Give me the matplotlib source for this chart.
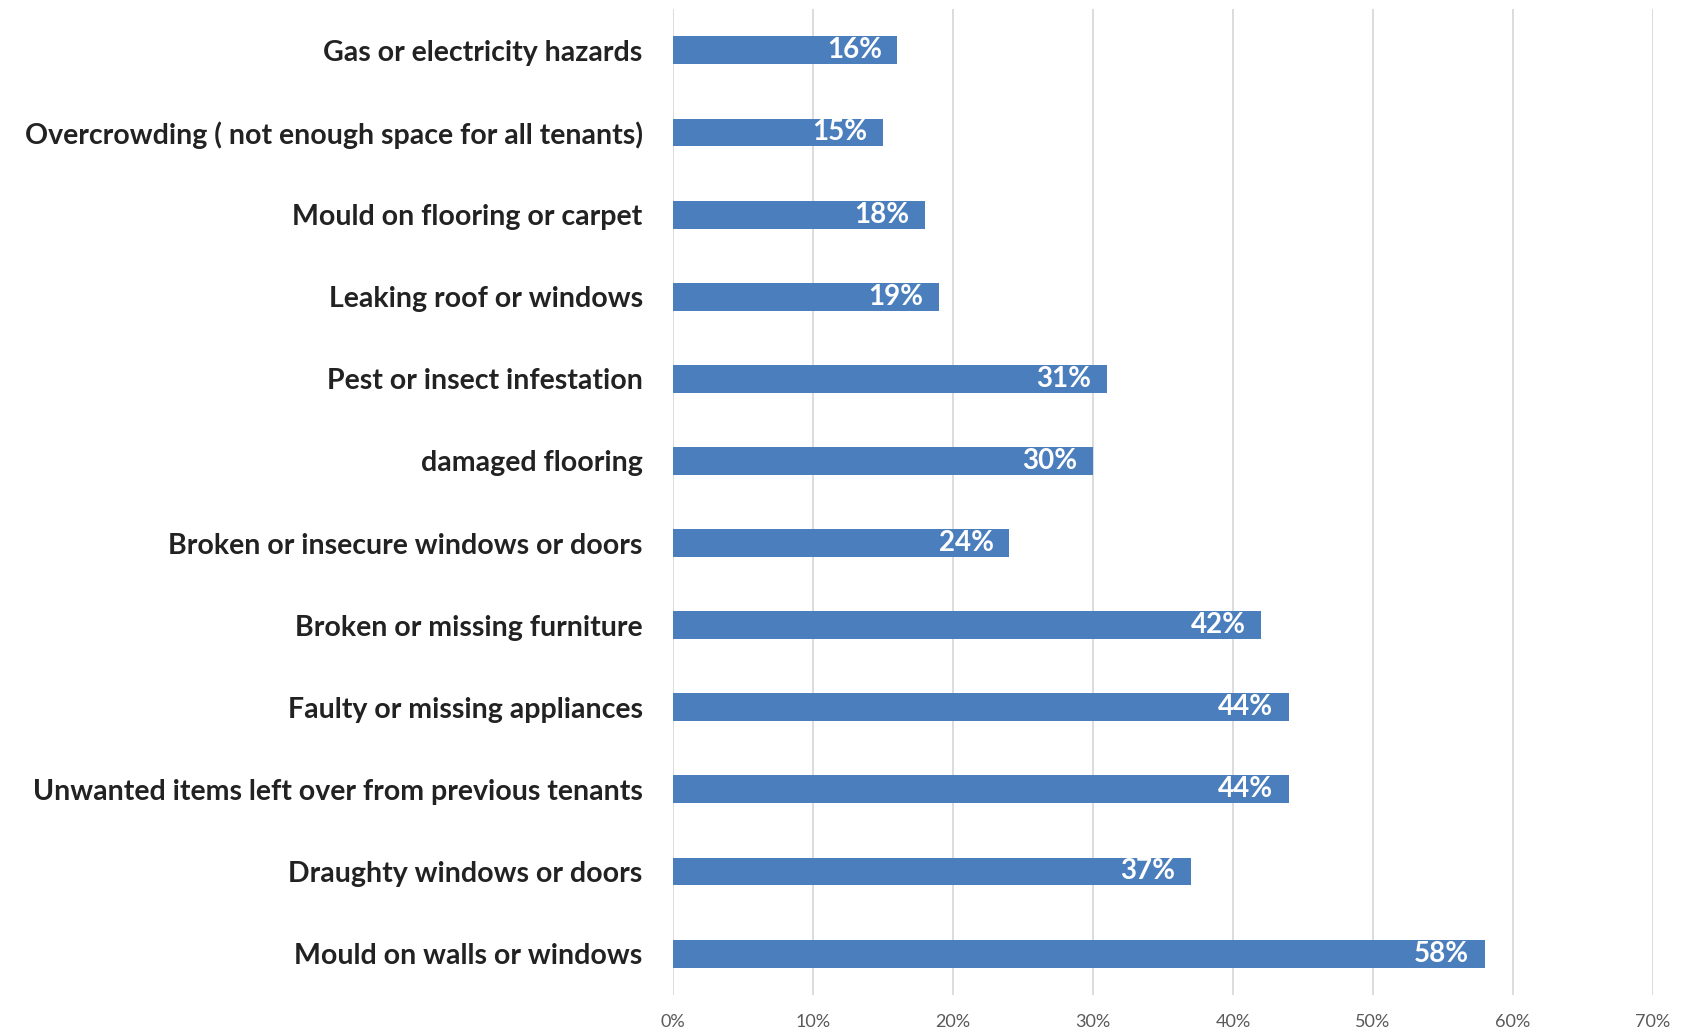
import matplotlib.pyplot as plt
from matplotlib.ticker import FuncFormatter

# housing problems reported, listed top to bottom
problems = [
    'Gas or electricity hazards',
    'Overcrowding ( not enough space for all tenants)',
    'Mould on flooring or carpet',
    'Leaking roof or windows',
    'Pest or insect infestation',
    'damaged flooring',
    'Broken or insecure windows or doors',
    'Broken or missing furniture',
    'Faulty or missing appliances',
    'Unwanted items left over from previous tenants',
    'Draughty windows or doors',
    'Mould on walls or windows',
]
share = [16, 15, 18, 19, 31, 30, 24, 42, 44, 44, 37, 58]
xticks = [0, 10, 20, 30, 40, 50, 60, 70]

plt.rcParams['font.family'] = ['Lato', 'DejaVu Sans']

fig = plt.figure(figsize=(16.83, 10.35), dpi=100)
ax = fig.add_axes([0.400, 0.039, 0.582, 0.952])

ypos = list(range(len(problems)))
ax.barh(ypos, share, height=0.34, color='#4A7EBD', zorder=3)

for y, v in zip(ypos, share):
    ax.text(v - 1.1, y, f'{v}%', ha='right', va='center', color='white',
            fontsize=20, fontweight='bold', zorder=4)

ax.set_ylim(len(problems) - 0.5, -0.5)
ax.set_xlim(0, 70)
ax.set_yticks(ypos)
ax.set_yticklabels(problems, fontsize=20.5, fontweight='bold', color='#222222')
ax.set_xticks(xticks)
ax.xaxis.set_major_formatter(FuncFormatter(lambda v, p: f'{v:.0f}%'))
ax.tick_params(axis='x', length=0, pad=14, labelsize=13, labelcolor='#595959')
ax.tick_params(axis='y', length=0, pad=22)
ax.grid(axis='x', color='#D9D9D9', linewidth=1.3, zorder=0)
for s in ax.spines.values():
    s.set_visible(False)

fig.savefig('out.png', dpi=100, facecolor='white')
